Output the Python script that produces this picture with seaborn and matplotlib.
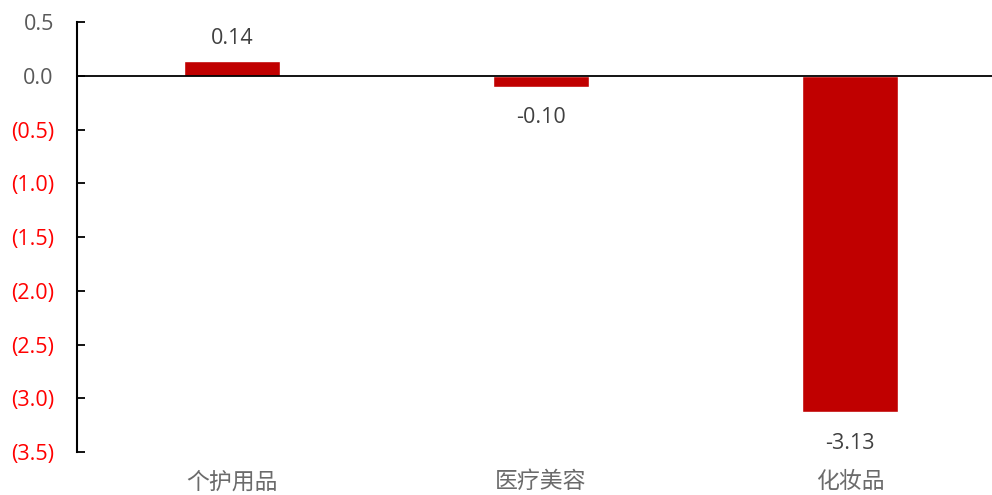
import numpy as np
import pandas as pd
import seaborn as sns
import matplotlib.pyplot as plt
from matplotlib.ticker import FuncFormatter

categories = ["个护用品", "医疗美容", "化妆品"]
values = [0.14, -0.10, -3.13]
yticks = [0.5, 0.0, -0.5, -1.0, -1.5, -2.0, -2.5, -3.0, -3.5]

sns.set_style("white")
plt.rcParams['font.family'] = ['Open Sans', 'Noto Sans CJK SC', 'DejaVu Sans']

df = pd.DataFrame({"cat": categories, "val": values})

fig = plt.figure(figsize=(9.92, 4.95), dpi=100)
ax = fig.add_axes([0.0781, 0.0863, 0.9345, 0.8693])

sns.barplot(data=df, x="cat", y="val", color="#C00000", saturation=1,
            width=0.313, ax=ax)

ax.axhline(0, color="black", lw=1.3, zorder=3)
ax.set_ylim(-3.5, 0.5)
ax.set_xlim(-0.5, 2.5)
ax.set_yticks(yticks)


def fmt(v, pos):
    if v < -1e-9:
        return f"({abs(v):.1f})"
    return f"{abs(v):.1f}"


ax.yaxis.set_major_formatter(FuncFormatter(fmt))
ax.tick_params(axis='y', left=True, direction='in', length=5.5, width=1.3,
               pad=17, labelsize=15.5, colors='black')
for lab, v in zip(ax.get_yticklabels(), ax.get_yticks()):
    lab.set_color('#FF0000' if v < -1e-9 else '#595959')

ax.tick_params(axis='x', length=0, pad=13, labelsize=16.5, labelcolor='#6b6b6b')
for lab in ax.get_xticklabels():
    lab.set_family(['Noto Sans CJK SC', 'DejaVu Sans'])

ax.set_xlabel("")
ax.set_ylabel("")
for s in ['top', 'right', 'bottom']:
    ax.spines[s].set_visible(False)
ax.spines['left'].set_color('black')
ax.spines['left'].set_linewidth(1.5)

# data labels: above positive bars, below negative ones
for i, v in enumerate(values):
    off = 16 if v >= 0 else -22
    ax.annotate(f"{v:.2f}", (i, v), xytext=(0, off), textcoords='offset points',
                ha='center', va='center', fontsize=15.5, color='#404040')

fig.savefig("out.png", dpi=100)
